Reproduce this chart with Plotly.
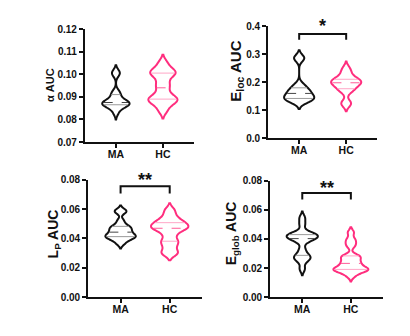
import numpy as np
import plotly.graph_objects as go

GROUPS = ["MA", "HC"]
BLACK = "#111111"
PINK = "#FF2E7E"

# sample values per panel
alpha_ma = [0.0830, 0.0855, 0.0861, 0.0865, 0.0869, 0.0872, 0.0875, 0.0881,
            0.0890, 0.0910, 0.0922, 0.1000, 0.1010]
alpha_hc = [0.0840, 0.0870, 0.0880, 0.0890, 0.0893, 0.0910, 0.0940, 0.0960,
            0.0990, 0.1005, 0.1010, 0.1020, 0.1050]
eloc_ma = [0.128, 0.135, 0.140, 0.142, 0.147, 0.152, 0.160, 0.165, 0.172,
           0.180, 0.192, 0.282, 0.290]
eloc_hc = [0.120, 0.128, 0.165, 0.175, 0.182, 0.190, 0.196, 0.200, 0.203,
           0.206, 0.212, 0.220, 0.235, 0.250]
lp_ma = [0.0365, 0.0390, 0.0400, 0.0410, 0.0415, 0.0420, 0.0430, 0.0443,
         0.0455, 0.0465, 0.0480, 0.0485, 0.0520, 0.0580, 0.0590]
lp_hc = [0.0295, 0.0305, 0.0340, 0.0370, 0.0385, 0.0420, 0.0450, 0.0465,
         0.0474, 0.0480, 0.0490, 0.0505, 0.0515, 0.0530, 0.0560, 0.0595]
eglob_ma = [0.0195, 0.0250, 0.0265, 0.0280, 0.0290, 0.0330, 0.0385, 0.0400,
            0.0405, 0.0415, 0.0420, 0.0428, 0.0435, 0.0440, 0.0500, 0.0545]
eglob_hc = [0.0145, 0.0170, 0.0180, 0.0185, 0.0190, 0.0195, 0.0200, 0.0210,
            0.0230, 0.0235, 0.0250, 0.0270, 0.0280, 0.0285, 0.0350, 0.0375,
            0.0400, 0.0445]

PANELS = [
    dict(ma=alpha_ma, hc=alpha_hc, bw=(0.0015, 0.0018), width=(0.58, 0.62),
         title="α AUC", title_size=11, title_xy=(0.122, 0.756),
         rng=[0.07, 0.12], dtick=0.01, fmt=".2f", sig=None),
    dict(ma=eloc_ma, hc=eloc_hc, bw=(0.012, 0.012), width=(0.64, 0.64),
         title="E<sub>loc</sub> AUC", title_size=15, title_xy=(0.578, 0.800),
         rng=[0, 0.4], dtick=0.1, fmt=".1f", sig=("*", 0.372, 0.352, 0.445)),
    dict(ma=lp_ma, hc=lp_hc, bw=(0.0017, 0.0022), width=(0.62, 0.76),
         title="L<sub>P</sub> AUC", title_size=14, title_xy=(0.134, 0.298),
         rng=[0, 0.08], dtick=0.02, fmt=".2f", sig=("**", 0.0756, 0.0706, 0.0880)),
    dict(ma=eglob_ma, hc=eglob_hc, bw=(0.0022, 0.0018), width=(0.64, 0.72),
         title="E<sub>glob</sub> AUC", title_size=14, title_xy=(0.568, 0.298),
         rng=[0, 0.08], dtick=0.02, fmt=".2f", sig=("**", 0.0716, 0.067, 0.0830)),
]

X_DOMAINS = [[0.207, 0.473], [0.654, 0.920], [0.215, 0.493], [0.659, 0.934]]
Y_DOMAINS = [[0.580, 0.929], [0.592, 0.9375], [0.101, 0.464], [0.101, 0.461]]

QUART_STYLE = {
    BLACK: ("#9a9a9a", "#444444"),
    PINK: ("#ffa6c6", "#ff5c97"),
}


def half_width(vals, bw, width, y):
    """Half width of the plotly violin at y (gaussian kde scaled to max)."""
    vals = np.asarray(vals)
    grid = np.linspace(vals.min() - 2 * bw, vals.max() + 2 * bw, 400)
    kde = lambda t: np.exp(-0.5 * ((t - vals[:, None]) / bw) ** 2).sum(axis=0)
    return width / 2 * kde(np.atleast_1d(y)) / kde(grid).max()


fig = go.Figure()
font = "Liberation Sans, Arial, sans-serif"

for i, p in enumerate(PANELS):
    xa = "x" if i == 0 else f"x{i + 1}"
    ya = "y" if i == 0 else f"y{i + 1}"
    for pos, (key, color) in enumerate([("ma", BLACK), ("hc", PINK)]):
        vals = p[key]
        bw = p["bw"][pos]
        w = p["width"][pos]
        fig.add_trace(go.Violin(
            y=vals, x0=pos, xaxis=xa, yaxis=ya,
            bandwidth=bw, width=w, spanmode="soft",
            line=dict(color=color, width=2), fillcolor="rgba(255,255,255,0)",
            points=False, box_visible=False, meanline_visible=False,
            hoverinfo="skip", showlegend=False, name=GROUPS[pos],
        ))
        # quartile lines
        q1, med, q3 = np.percentile(vals, [25, 50, 75])
        qcol, mcol = QUART_STYLE[color]
        for q, c, dash in [(q1, qcol, "solid"), (q3, qcol, "solid"), (med, mcol, "dash")]:
            h = float(half_width(vals, bw, w, q)[0]) * 0.92
            fig.add_trace(go.Scatter(
                x=[pos - h, pos + h], y=[q, q], mode="lines", xaxis=xa, yaxis=ya,
                line=dict(color=c, width=1, dash=dash),
                hoverinfo="skip", showlegend=False,
            ))
    if p["sig"]:
        label, top, leg, star_y = p["sig"]
        r0, r1 = p["rng"]
        fig.add_trace(go.Scatter(
            x=[0, 0, 1, 1], y=[leg, top, top, leg], mode="lines",
            xaxis=xa, yaxis=ya, line=dict(color=BLACK, width=2),
            hoverinfo="skip", showlegend=False, cliponaxis=False,
        ))
        fig.add_annotation(
            x=0.5, y=(star_y - r0) / (r1 - r0), xref=xa, yref=f"{ya} domain",
            text=f"<b>{label}</b>", showarrow=False,
            font=dict(family=font, size=18, color=BLACK),
        )

    # y axis title, placed as rotated text
    tx, ty = p["title_xy"]
    fig.add_annotation(
        x=tx, y=ty, xref="paper", yref="paper", text=f"<b>{p['title']}</b>",
        textangle=-90, showarrow=False, xanchor="center", yanchor="middle",
        font=dict(family=font, size=p["title_size"], color=BLACK),
    )

    axis_common = dict(showline=True, linecolor=BLACK, linewidth=2,
                       ticks="outside", ticklen=4, tickwidth=1.5, tickcolor=BLACK,
                       showgrid=False, zeroline=False)
    fig.layout[f"xaxis{i + 1 if i else ''}"] = dict(
        axis_common, domain=X_DOMAINS[i], anchor=ya, type="linear",
        range=[-0.66, 1.66], tickvals=[0, 1], ticktext=GROUPS,
        ticklabelstandoff=-3,
        tickfont=dict(family=font, size=10.5, color=BLACK, weight="bold"),
    )
    fig.layout[f"yaxis{i + 1 if i else ''}"] = dict(
        axis_common, domain=Y_DOMAINS[i], anchor=xa,
        range=p["rng"], dtick=p["dtick"], tick0=0, tickformat=p["fmt"],
        tickfont=dict(family=font, size=10, color=BLACK, weight="bold"),
    )

fig.update_layout(
    width=410, height=336,
    margin=dict(l=0, r=0, t=0, b=0),
    paper_bgcolor="white", plot_bgcolor="white",
    violinmode="overlay",
    font=dict(family=font, color=BLACK),
)

fig.write_html("out.html", config={"displayModeBar": False},
               post_script="document.body.style.margin = '0';")
